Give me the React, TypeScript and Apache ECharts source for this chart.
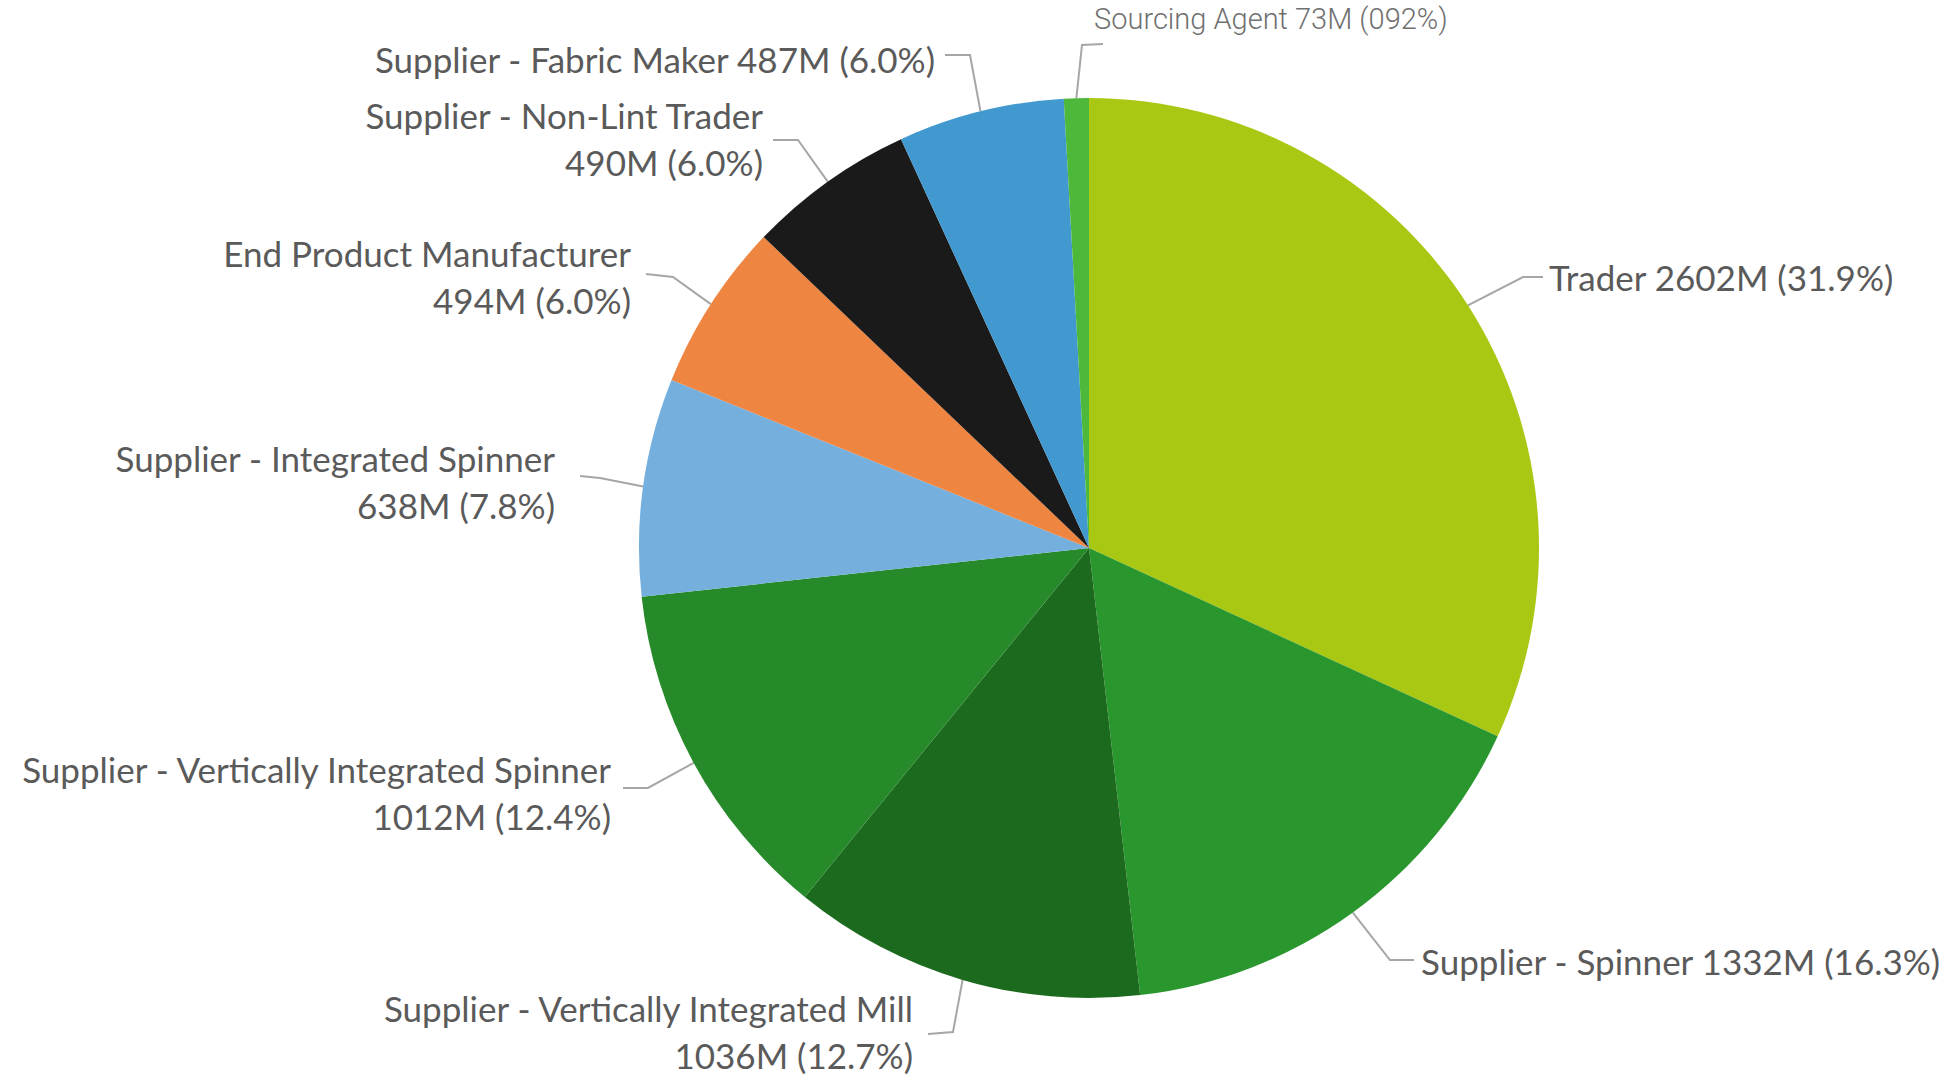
import React, { useEffect, useRef } from "react";
import * as echarts from "echarts";

const categories = [
  "Trader",
  "Supplier - Spinner",
  "Supplier - Vertically Integrated Mill",
  "Supplier - Vertically Integrated Spinner",
  "Supplier - Integrated Spinner",
  "End Product Manufacturer",
  "Supplier - Non-Lint Trader",
  "Supplier - Fabric Maker",
  "Sourcing Agent",
];
const values = [2602, 1332, 1036, 1012, 638, 494, 490, 487, 73];
const percentLabels = ["31.9%", "16.3%", "12.7%", "12.4%", "7.8%", "6.0%", "6.0%", "6.0%", "092%"];
const colors = [
  "#A8C814",
  "#2A962E",
  "#1C6A1E",
  "#278A2A",
  "#74AFDD",
  "#EE8540",
  "#1A1A1A",
  "#4199D0",
  "#4DB83A",
];
// label text layout: true = two lines (name / value)
const twoLine = [false, false, true, true, true, true, true, false, false];

// label placement (style, not data): [x, y, align, elbowX, elbowY, endX, endY]
const labelPlacement: [number, number, string, number, number, number, number][] = [
  [1549, 277, "left", 1523, 277, 1543, 277],
  [1421, 961, "left", 1390, 960, 1414, 960],
  [913, 1031, "right", 953, 1032, 928, 1034],
  [611, 792, "right", 648, 788, 623, 788],
  [555, 481, "right", 600, 478, 580, 476],
  [631, 276, "right", 673, 277, 646, 274],
  [763, 138, "right", 798, 140, 773, 140],
  [935, 59, "right", 970, 55, 945, 55],
  [1094, 19, "left", 1082, 45, 1103, 44],
];

export default function App() {
  const ref = useRef<HTMLDivElement>(null);
  useEffect(() => {
    const chart = echarts.init(ref.current!, null, { renderer: "svg" });
    const data = categories.map((name, i) => ({
      name,
      value: values[i],
      itemStyle: { color: colors[i] },
      label:
        i === 8
          ? {
              fontFamily: "Roboto",
              fontWeight: 300,
              fontSize: 29,
              color: "#707070",
            }
          : {},
    }));
    chart.setOption({
      animation: false,
      backgroundColor: "#ffffff",
      series: [
        {
          type: "pie",
          center: [1089, 548],
          radius: 450,
          startAngle: 90,
          clockwise: true,
          avoidLabelOverlap: false,
          data,
          itemStyle: { borderWidth: 0 },
          label: {
            show: true,
            fontFamily: "Lato",
            fontSize: 35,
            color: "#5A5A5A",
            lineHeight: 47,
            formatter: (p: any) => {
              const i = p.dataIndex;
              const v = values[i] + "M (" + percentLabels[i] + ")";
              return twoLine[i] ? p.name + "\n" + v : p.name + " " + v;
            },
          },
          labelLine: {
            show: true,
            lineStyle: { color: "#A6A6A6", width: 2 },
          },
          labelLayout: (params: any) => {
            const i = params.dataIndex;
            const pl = labelPlacement[i];
            const start =
              params.labelLinePoints && params.labelLinePoints[0]
                ? params.labelLinePoints[0]
                : [pl[3], pl[4]];
            return {
              x: pl[0],
              y: pl[1],
              align: pl[2],
              verticalAlign: "middle",
              labelLinePoints: [start, [pl[3], pl[4]], [pl[5], pl[6]]],
            };
          },
        },
      ],
    });
    return () => chart.dispose();
  }, []);
  return (
    <div
      ref={ref}
      style={{ position: "absolute", left: 0, top: 0, width: 1954, height: 1079 }}
    />
  );
}
